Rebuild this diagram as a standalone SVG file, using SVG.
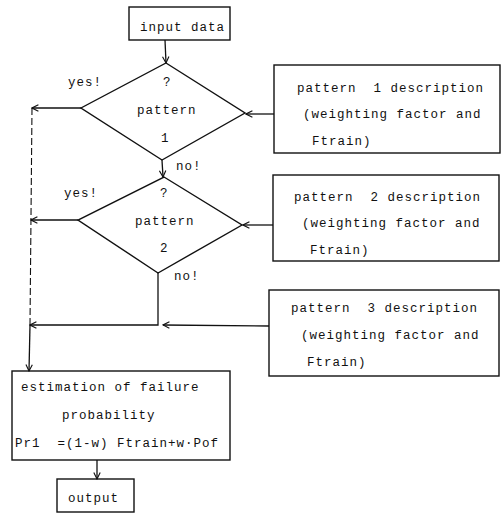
<svg xmlns="http://www.w3.org/2000/svg" width="501" height="514" viewBox="0 0 501 514" xml:space="preserve">
<style>
.b{fill:none;stroke:#111;stroke-width:1.4}
.c{fill:none;stroke:#111;stroke-width:1.3}
.d{fill:none;stroke:#111;stroke-width:1.1;stroke-dasharray:7,3}
text{font-family:"Liberation Mono","DejaVu Sans Mono",monospace;font-size:12.5px;fill:#111;letter-spacing:1px;white-space:pre}
</style>
<defs>
<marker id="a" viewBox="0 0 10 10" refX="9" refY="5" markerWidth="8" markerHeight="8" orient="auto" markerUnits="userSpaceOnUse">
<path d="M1,1 L9,5 L1,9" fill="none" stroke="#111" stroke-width="1.4"/>
</marker>
</defs>
<rect width="501" height="514" fill="#fff"/>
<g id="connectors">
<line class="c" x1="165" y1="40" x2="166" y2="63" marker-end="url(#a)"/>
<line class="c" x1="81" y1="108" x2="32" y2="108" marker-end="url(#a)"/>
<line class="c" x1="274" y1="114" x2="246" y2="114" marker-end="url(#a)"/>
<line class="c" x1="162" y1="160" x2="163" y2="177" marker-end="url(#a)"/>
<line class="c" x1="78" y1="220" x2="31" y2="220" marker-end="url(#a)"/>
<line class="c" x1="273" y1="225" x2="243" y2="225" marker-end="url(#a)"/>
<polyline class="c" points="158,273 158,325 30,325" marker-end="url(#a)"/>
<line class="c" x1="269" y1="326" x2="163" y2="325" marker-end="url(#a)"/>
<line class="d" x1="32" y1="108" x2="30" y2="325"/>
<line class="c" x1="30" y1="325" x2="29" y2="371" marker-end="url(#a)"/>
<line class="c" x1="97" y1="460" x2="97" y2="479" marker-end="url(#a)"/>
</g>
<g id="input">
<rect class="b" x="129" y="7" width="101" height="33"/>
<text x="140" y="31">input data</text>
</g>
<g id="decision1">
<polygon class="b" points="166,63 245,113 162,160 81,108"/>
<text x="163" y="86">?</text>
<text x="137" y="114">pattern</text>
<text x="161" y="142">1</text>
<text x="68" y="86">yes!</text>
<text x="176" y="170">no!</text>
</g>
<g id="decision2">
<polygon class="b" points="164,177 242,225 158,273 78,220"/>
<text x="160" y="197">?</text>
<text x="135" y="225">pattern</text>
<text x="160" y="252">2</text>
<text x="64" y="197">yes!</text>
<text x="174" y="280">no!</text>
</g>
<g id="pattern1">
<rect class="b" x="274" y="65" width="226" height="88"/>
<text x="297" y="92">pattern  1 description</text>
<text x="303" y="118">(weighting factor and</text>
<text x="312" y="145">Ftrain)</text>
</g>
<g id="pattern2">
<rect class="b" x="273" y="175" width="226" height="86"/>
<text x="294" y="201">pattern  2 description</text>
<text x="302" y="227">(weighting factor and</text>
<text x="310" y="254">Ftrain)</text>
</g>
<g id="pattern3">
<rect class="b" x="269" y="290" width="230" height="86"/>
<text x="291" y="312">pattern  3 description</text>
<text x="301" y="339">(weighting factor and</text>
<text x="307" y="366">Ftrain)</text>
</g>
<g id="estimation">
<rect class="b" x="12" y="371" width="218" height="89"/>
<text x="21" y="391">estimation of failure</text>
<text x="62" y="419">probability</text>
<text x="15" y="447">Pr1  =(1-w) Ftrain+w·Pof</text>
</g>
<g id="output">
<rect class="b" x="57" y="479" width="77" height="33"/>
<text x="68" y="502">output</text>
</g>
</svg>
